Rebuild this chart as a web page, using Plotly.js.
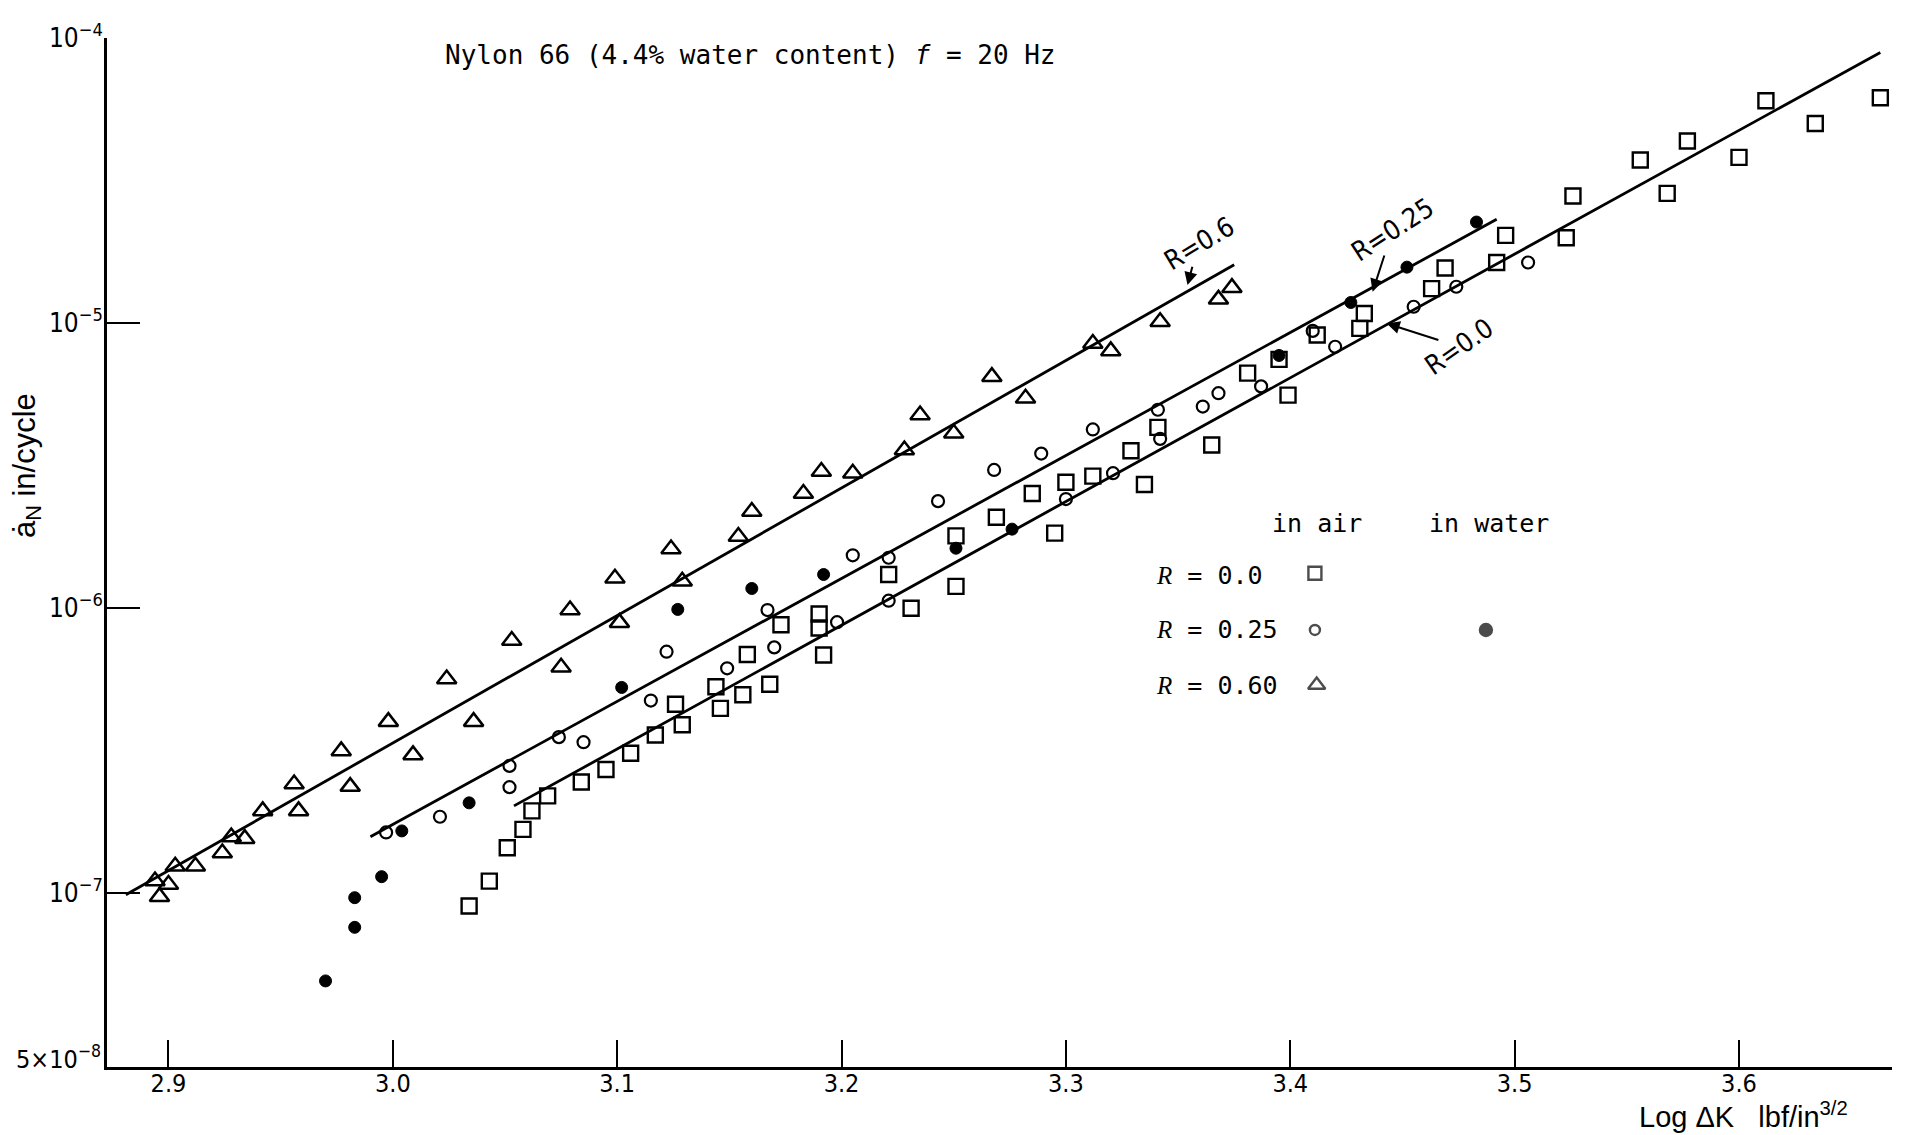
<!DOCTYPE html>
<html>
<head>
<meta charset="utf-8">
<script src="https://cdn.plot.ly/plotly-3.0.1.min.js"></script>
<style>
  html, body { margin: 0; padding: 0; background: #fff; }
  #chart { width: 1914px; height: 1135px; }
</style>
</head>
<body>
<div id="chart"></div>
<script>
// Fatigue crack growth rate of Nylon 66 against log stress-intensity range

// R = 0.60, tested in air (triangles)
const r060AirLogK = [2.894, 2.896, 2.900, 2.903, 2.912, 2.924, 2.928, 2.934, 2.942, 2.956,
  2.958, 2.977, 2.981, 2.998, 3.009, 3.024, 3.036, 3.053, 3.075, 3.079,
  3.099, 3.101, 3.124, 3.129, 3.154, 3.160, 3.183, 3.191, 3.205, 3.228,
  3.235, 3.250, 3.267, 3.282, 3.312, 3.320, 3.342, 3.368, 3.374];
const r060AirRate = [1.10e-7, 9.7e-8, 1.07e-7, 1.24e-7, 1.24e-7, 1.38e-7, 1.57e-7, 1.55e-7, 1.94e-7, 2.41e-7,
  1.94e-7, 3.15e-7, 2.36e-7, 3.99e-7, 3.05e-7, 5.63e-7, 3.99e-7, 7.68e-7, 6.19e-7, 9.83e-7,
  1.27e-6, 8.88e-7, 1.61e-6, 1.24e-6, 1.78e-6, 2.18e-6, 2.52e-6, 3.01e-6, 2.97e-6, 3.58e-6,
  4.75e-6, 4.10e-6, 6.48e-6, 5.44e-6, 8.47e-6, 7.98e-6, 1.01e-5, 1.21e-5, 1.33e-5];

// R = 0.0, tested in air (squares)
const r000AirLogK = [3.034, 3.043, 3.051, 3.058, 3.062, 3.069, 3.084, 3.095, 3.106, 3.117,
  3.126, 3.129, 3.144, 3.146, 3.156, 3.158, 3.168, 3.173, 3.190, 3.190,
  3.192, 3.221, 3.231, 3.251, 3.251, 3.269, 3.285, 3.295, 3.300, 3.312,
  3.329, 3.335, 3.341, 3.365, 3.381, 3.395, 3.399, 3.412, 3.431, 3.433,
  3.463, 3.469, 3.492, 3.496, 3.523, 3.526, 3.556, 3.568, 3.577, 3.600,
  3.612, 3.634, 3.663];
const r000AirRate = [9.0e-8, 1.10e-7, 1.44e-7, 1.67e-7, 1.94e-7, 2.19e-7, 2.45e-7, 2.71e-7, 3.09e-7, 3.58e-7,
  4.59e-7, 3.89e-7, 5.29e-7, 4.44e-7, 4.96e-7, 6.86e-7, 5.40e-7, 8.73e-7, 9.52e-7, 8.50e-7,
  6.84e-7, 1.31e-6, 9.97e-7, 1.79e-6, 1.19e-6, 2.08e-6, 2.52e-6, 1.83e-6, 2.76e-6, 2.90e-6,
  3.56e-6, 2.71e-6, 4.30e-6, 3.73e-6, 6.67e-6, 7.45e-6, 5.58e-6, 9.07e-6, 9.57e-6, 1.08e-5,
  1.32e-5, 1.56e-5, 1.63e-5, 2.03e-5, 1.99e-5, 2.79e-5, 3.73e-5, 2.85e-5, 4.35e-5, 3.81e-5,
  6.02e-5, 5.01e-5, 6.17e-5];

// R = 0.25, tested in air (open circles)
const r025AirLogK = [2.997, 3.021, 3.052, 3.052, 3.074, 3.085, 3.115, 3.122, 3.149, 3.167,
  3.170, 3.198, 3.205, 3.221, 3.221, 3.243, 3.268, 3.289, 3.300, 3.312,
  3.321, 3.341, 3.342, 3.361, 3.368, 3.387, 3.410, 3.420, 3.455, 3.474, 3.506];
const r025AirRate = [1.63e-7, 1.85e-7, 2.79e-7, 2.35e-7, 3.52e-7, 3.38e-7, 4.73e-7, 7.02e-7, 6.14e-7, 9.83e-7,
  7.27e-7, 8.91e-7, 1.53e-6, 1.50e-6, 1.06e-6, 2.37e-6, 3.05e-6, 3.48e-6, 2.41e-6, 4.23e-6,
  2.97e-6, 4.96e-6, 3.92e-6, 5.09e-6, 5.67e-6, 5.99e-6, 9.38e-6, 8.25e-6, 1.14e-5, 1.34e-5, 1.63e-5];

// R = 0.25, tested in water (filled circles)
const r025WaterLogK = [2.970, 2.983, 2.983, 2.995, 3.004, 3.034, 3.102, 3.127, 3.160, 3.192,
  3.251, 3.276, 3.395, 3.427, 3.452, 3.483];
const r025WaterRate = [4.91e-8, 9.62e-8, 7.57e-8, 1.14e-7, 1.65e-7, 2.07e-7, 5.26e-7, 9.88e-7, 1.17e-6, 1.31e-6,
  1.62e-6, 1.89e-6, 7.69e-6, 1.18e-5, 1.57e-5, 2.26e-5];

// Fitted straight lines (end points)
const fit060LogK = [2.881, 3.375];
const fit060Rate = [9.85e-8, 1.60e-5];
const fit025LogK = [2.990, 3.492];
const fit025Rate = [1.575e-7, 2.31e-5];
const fit000LogK = [3.054, 3.663];
const fit000Rate = [2.02e-7, 8.9e-5];

// Axis ticks
const xTickVals = [2.9, 3.0, 3.1, 3.2, 3.3, 3.4, 3.5, 3.6];
const xTickText = ['2.9', '3.0', '3.1', '3.2', '3.3', '3.4', '3.5', '3.6'];
const yTickVals = [1e-4, 1e-5, 1e-6, 1e-7];
const yTickText = ['10<sup>−4</sup>', '10<sup>−5</sup>', '10<sup>−6</sup>', '10<sup>−7</sup>'];

const NARROW = 'Liberation Sans Narrow, DejaVu Sans Condensed, Arial Narrow, sans-serif';
const SANS = 'Liberation Sans, Arial, sans-serif';
const MONO = 'DejaVu Sans Mono, Liberation Mono, monospace';
const INK = '#000';

function fitLine(x, y) {
  return { x: x, y: y, type: 'scatter', mode: 'lines', hoverinfo: 'skip',
           line: { color: INK, width: 2.8 } };
}
function markers(x, y, symbol, size, lw) {
  return { x: x, y: y, type: 'scatter', mode: 'markers', hoverinfo: 'skip',
           marker: { symbol: symbol, size: size, color: INK, line: { color: INK, width: lw } } };
}

const traces = [
  fitLine(fit060LogK, fit060Rate),
  fitLine(fit025LogK, fit025Rate),
  fitLine(fit000LogK, fit000Rate),
  markers(r060AirLogK, r060AirRate, 'triangle-up-open', 17, 2.5),
  markers(r000AirLogK, r000AirRate, 'square-open', 15, 2.4),
  markers(r025AirLogK, r025AirRate, 'circle-open', 12, 2.2),
  markers(r025WaterLogK, r025WaterRate, 'circle', 12, 1)
];

// key symbols drawn on an overlay axis pair spanning the plot area
const keyX = [0.6767, 0.6767, 0.7725, 0.6777];
const keyY = [0.4798, 0.4247, 0.4247, 0.3712];
const keySymbols = ['square-open', 'circle-open', 'circle', 'triangle-up-open'];
const keySizes = [13, 10, 12, 15];
traces.push({
  x: keyX, y: keyY, xaxis: 'x2', yaxis: 'y2', type: 'scatter', mode: 'markers', hoverinfo: 'skip',
  marker: { symbol: keySymbols, size: keySizes, color: INK, line: { color: INK, width: 2.4 } }
});

const rItalic = '<span style="font-family:Liberation Serif;font-style:italic">R</span>';

// line labels: each points at its fitted line (y in log10 units on the log axis)
function lineLabel(text, tipX, tipLogY, ax, ay, angle) {
  return { xref: 'x', yref: 'y', x: tipX, y: tipLogY, text: text, textangle: angle,
           showarrow: true, ax: ax, ay: ay, arrowhead: 2, arrowsize: 1.3, arrowwidth: 2,
           arrowcolor: INK, standoff: 0, startstandoff: 0,
           font: { family: NARROW, size: 27, color: INK } };
}

const annotations = [
  lineLabel('R=0.6', 3.3542, -4.8672, 11, -42, -31),
  lineLabel('R=0.25', 3.4367, -4.8908, 20, -62, -33),
  lineLabel('R=0.0', 3.4430, -5.0017, 72, 23, -35),

  // key table
  { xref: 'paper', yref: 'paper', x: 0.6513, y: 0.5277, xanchor: 'left', yanchor: 'middle',
    text: 'in air', showarrow: false, font: { family: MONO, size: 25, color: INK } },
  { xref: 'paper', yref: 'paper', x: 0.7395, y: 0.5277, xanchor: 'left', yanchor: 'middle',
    text: 'in water', showarrow: false, font: { family: MONO, size: 25, color: INK } },
  { xref: 'paper', yref: 'paper', x: 0.5863, y: 0.4781, xanchor: 'left', yanchor: 'middle',
    text: rItalic + ' = 0.0', showarrow: false, font: { family: MONO, size: 25, color: INK } },
  { xref: 'paper', yref: 'paper', x: 0.5863, y: 0.4247, xanchor: 'left', yanchor: 'middle',
    text: rItalic + ' = 0.25', showarrow: false, font: { family: MONO, size: 25, color: INK } },
  { xref: 'paper', yref: 'paper', x: 0.5863, y: 0.3712, xanchor: 'left', yanchor: 'middle',
    text: rItalic + ' = 0.60', showarrow: false, font: { family: MONO, size: 25, color: INK } },

  // axis captions
  { xref: 'paper', yref: 'paper', x: 0.9765, y: -0.0466, xanchor: 'right', yanchor: 'middle',
    text: 'Log ΔK   lbf/in<sup>3/2</sup>', showarrow: false,
    font: { family: SANS, size: 29, color: INK } },
  { xref: 'paper', yref: 'paper', x: -0.0448, y: 0.584, xanchor: 'center', yanchor: 'middle',
    text: 'ȧ<sub>N</sub> in/cycle', textangle: -90, showarrow: false,
    font: { family: SANS, size: 31, color: INK } },
  { xref: 'paper', yref: 'paper', x: -0.002, y: 0.009, xanchor: 'right', yanchor: 'middle',
    text: '5×10<sup>−8</sup>', showarrow: false, font: { family: NARROW, size: 25, color: INK } }
];

const layout = {
  width: 1914, height: 1135,
  margin: { l: 107, r: 22, t: 38, b: 68, pad: 0 },
  paper_bgcolor: '#fff', plot_bgcolor: '#fff',
  showlegend: false,
  title: {
    text: 'Nylon 66 (4.4% water content) <i>f</i> = 20 Hz',
    x: 0.392, xanchor: 'center', y: 0.9515, yanchor: 'middle',
    font: { family: MONO, size: 26, color: INK }
  },
  xaxis: {
    range: [2.8726, 3.6682], showgrid: false, zeroline: false,
    showline: true, linewidth: 3, linecolor: INK,
    ticks: 'inside', ticklen: 27, tickwidth: 2, tickcolor: INK,
    tickmode: 'array', tickvals: xTickVals, ticktext: xTickText,
    ticklabelstandoff: -8,
    tickfont: { family: NARROW, size: 25, color: INK }
  },
  yaxis: {
    type: 'log', range: [-7.611, -4.0], showgrid: false, zeroline: false,
    showline: true, linewidth: 3, linecolor: INK,
    ticks: 'inside', ticklen: 33, tickwidth: 2.5, tickcolor: INK,
    tickmode: 'array', tickvals: yTickVals, ticktext: yTickText,
    ticklabelstandoff: -4,
    tickfont: { family: NARROW, size: 26, color: INK }
  },
  xaxis2: { overlaying: 'x', anchor: 'y2', range: [0, 1], visible: false, fixedrange: true },
  yaxis2: { overlaying: 'y', anchor: 'x2', range: [0, 1], visible: false, fixedrange: true },
  annotations: annotations
};

Plotly.newPlot('chart', traces, layout, { displayModeBar: false, staticPlot: true });
</script>
</body>
</html>
